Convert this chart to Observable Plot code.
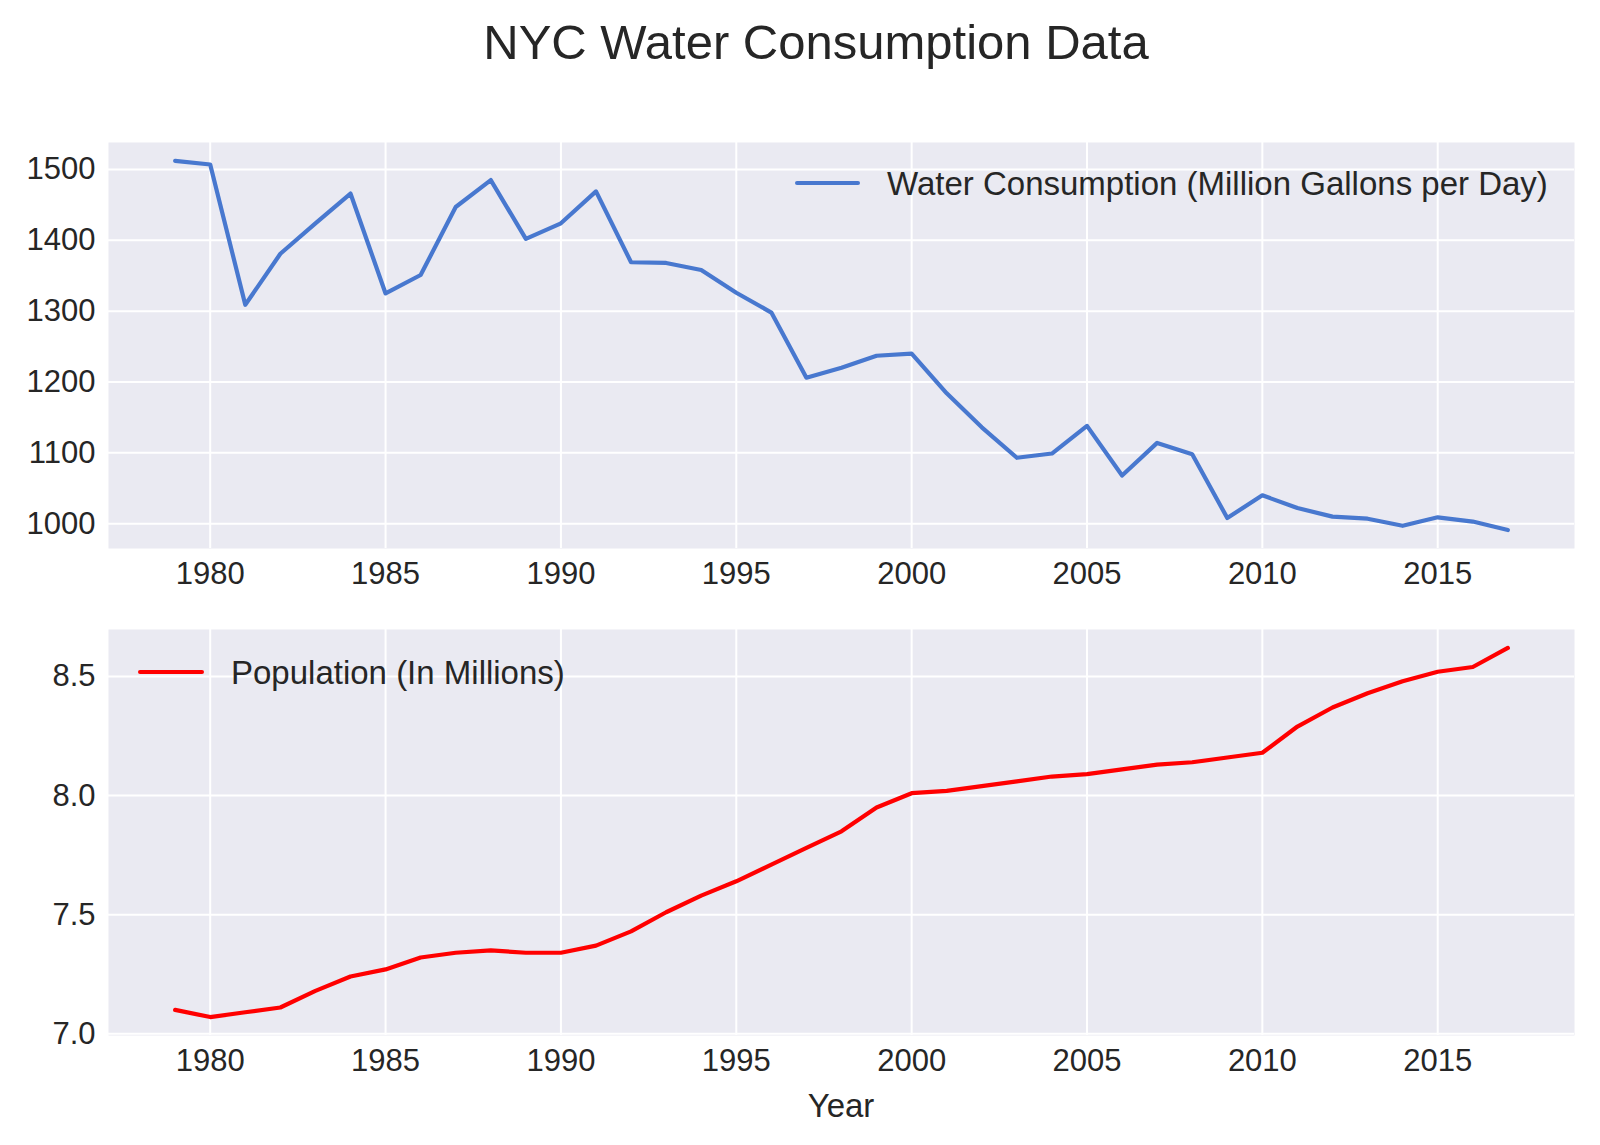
<!DOCTYPE html>
<html>
<head>
<meta charset="utf-8">
<script src="https://cdn.jsdelivr.net/npm/d3@7"></script>
<script src="https://cdn.jsdelivr.net/npm/@observablehq/plot@0.6"></script>
<style>
  html, body { margin: 0; padding: 0; background: #fff; }
  #page { position: relative; width: 1600px; height: 1145px; font-family: "Liberation Sans", Arial, sans-serif; color: #262626; }
  .abs { position: absolute; white-space: nowrap; }
  #title { left: 0; width: 1632px; text-align: center; top: 18px; font-size: 49px; line-height: 49px; }
  .leg { font-size: 33px; line-height: 33px; }
  .swatch { position: absolute; height: 4px; border-radius: 2px; }
  #xlabel { left: 0; width: 1682px; text-align: center; top: 1089px; font-size: 33px; line-height: 33px; }
</style>
</head>
<body>
<div id="page">
  <div id="title" class="abs"></div>
  <div id="top" class="abs" style="left:0;top:0"></div>
  <div id="bottom" class="abs" style="left:0;top:600px"></div>
  <div id="xlabel" class="abs"></div>
  <div class="swatch" id="sw1" style="left:795px;top:181px;width:65px;"></div>
  <div class="abs leg" id="leg1" style="left:887px;top:167px;"></div>
  <div class="swatch" id="sw2" style="left:138px;top:670px;width:66px;"></div>
  <div class="abs leg" id="leg2" style="left:231px;top:656px;"></div>
</div>
<script>
const titleText = "NYC Water Consumption Data";
const xLabelText = "Year";
const waterLabel = "Water Consumption (Million Gallons per Day)";
const popLabel = "Population (In Millions)";
const waterColor = "#4878CF";
const popColor = "#FF0000";

const years = [1979,1980,1981,1982,1983,1984,1985,1986,1987,1988,
               1989,1990,1991,1992,1993,1994,1995,1996,1997,1998,
               1999,2000,2001,2002,2003,2004,2005,2006,2007,2008,
               2009,2010,2011,2012,2013,2014,2015,2016,2017];
const water = [1512,1507,1309,1381,1424,1466,1325,1351,1447,1485,
               1402,1424,1469,1369,1368,1358,1326,1298,1206,1220,
               1237,1240,1184,1136,1093,1099,1138,1068,1114,1098,
               1008,1040,1022,1010,1007,997,1009,1003,991];
const population = [7.10,7.07,7.09,7.11,7.18,7.24,7.27,7.32,7.34,7.35,
                     7.34,7.34,7.37,7.43,7.51,7.58,7.64,7.71,7.78,7.85,
                     7.95,8.01,8.02,8.04,8.06,8.08,8.09,8.11,8.13,8.14,
                     8.16,8.18,8.29,8.37,8.43,8.48,8.52,8.54,8.62];
const xTicks = [1980,1985,1990,1995,2000,2005,2010,2015];
const waterTicks = [1000,1100,1200,1300,1400,1500];
const popTicks = [7.0,7.5,8.0,8.5];

const waterData = years.map((y, i) => ({year: y, value: water[i]}));
const popData = years.map((y, i) => ({year: y, value: population[i]}));

// matplotlib-style 5% margins
function padded(vals) {
  const lo = d3.min(vals), hi = d3.max(vals), m = (hi - lo) * 0.05;
  return [lo - m, hi + m];
}
const xDomain = padded(years);

function panel(data, ticks, yFormat, color, height, mt, mb) {
  return Plot.plot({
    width: 1600,
    height: height,
    marginLeft: 108,
    marginRight: 26,
    marginTop: mt,
    marginBottom: mb,
    style: {background: "transparent", color: "#262626", fontFamily: "Liberation Sans, Arial, sans-serif"},
    x: {domain: xDomain},
    y: {domain: padded(data.map(d => d.value))},
    marks: [
      Plot.frame({fill: "#EAEAF2", stroke: null}),
      Plot.gridX(xTicks, {stroke: "white", strokeOpacity: 1, strokeWidth: 2}),
      Plot.gridY(ticks, {stroke: "white", strokeOpacity: 1, strokeWidth: 2}),
      Plot.axisX(xTicks, {tickSize: 0, tickPadding: 13, fontSize: 31, tickFormat: d => String(d), label: null}),
      Plot.axisY(ticks, {tickSize: 0, tickPadding: 13, fontSize: 31, tickFormat: yFormat, label: null}),
      Plot.line(data, {x: "year", y: "value", stroke: color, strokeWidth: 4.2, strokeLinejoin: "round", strokeLinecap: "round"})
    ]
  });
}

document.getElementById("top").append(
  panel(waterData, waterTicks, d => String(d), waterColor, 600, 142, 52)
);
document.getElementById("bottom").append(
  panel(popData, popTicks, d => d.toFixed(1), popColor, 545, 29, 110)
);

document.getElementById("title").textContent = titleText;
document.getElementById("xlabel").textContent = xLabelText;
document.getElementById("leg1").textContent = waterLabel;
document.getElementById("leg2").textContent = popLabel;
document.getElementById("sw1").style.background = waterColor;
document.getElementById("sw2").style.background = popColor;
</script>
</body>
</html>
